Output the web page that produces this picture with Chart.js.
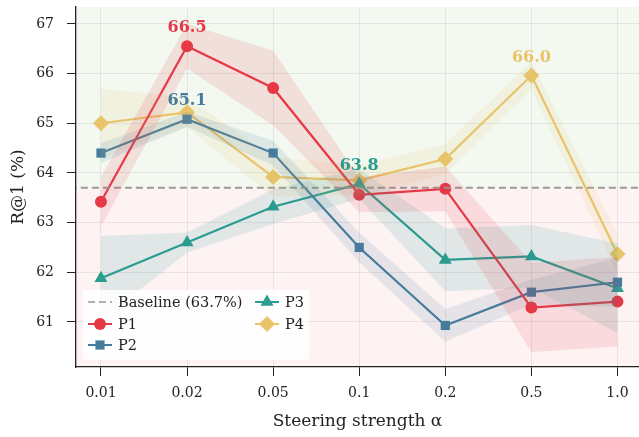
<!DOCTYPE html>
<html>
<head>
<meta charset="utf-8">
<script src="https://cdn.jsdelivr.net/npm/chart.js@4"></script>
<style>
  html, body { margin: 0; padding: 0; background: #fff; }
  #wrap { width: 639px; height: 437px; }
</style>
</head>
<body>
<div id="wrap"><canvas id="chart" width="639" height="437"></canvas></div>
<script>
// steering strengths (x categories)
const ALPHAS = ['0.01', '0.02', '0.05', '0.1', '0.2', '0.5', '1.0'];
const BASELINE = 63.7;

// mean R@1 per prompt
const P1 = [63.42, 66.55, 65.71, 63.56, 63.68, 61.29, 61.41];
const P2 = [64.40, 65.08, 64.40, 62.50, 60.93, 61.60, 61.80];
const P3 = [61.88, 62.60, 63.32, 63.78, 62.25, 62.32, 61.68];
const P4 = [65.00, 65.22, 63.92, 63.85, 64.28, 65.96, 62.37];

// spread (std) per prompt
const P1_STD = [0.50, 0.45, 0.75, 0.35, 0.45, 0.90, 0.90];
const P2_STD = [0.20, 0.15, 0.25, 0.30, 0.33, 0.25, 0.50];
const P3_STD = [0.85, 0.20, 0.35, 0.30, 0.63, 0.63, 0.90];
const P4_STD = [0.70, 0.30, 0.40, 0.30, 0.30, 0.28, 0.40];

const SERIES = [
  { name: 'P1', mean: P1, std: P1_STD, color: '#e63946', rgb: '230,57,70', marker: 'circle', r: 6 },
  { name: 'P2', mean: P2, std: P2_STD, color: '#457b9d', rgb: '69,123,157', marker: 'rect', r: 6.5 },
  { name: 'P3', mean: P3, std: P3_STD, color: '#2a9d8f', rgb: '42,157,143', marker: 'triangle', r: 7.5 },
  { name: 'P4', mean: P4, std: P4_STD, color: '#e9c46a', rgb: '233,196,106', marker: 'rectRot', r: 8 },
];

const FONT = "'DejaVu Serif', serif";
const pts = arr => arr.map((v, i) => ({ x: i, y: v }));

var datasets = [];
// bands first
SERIES.forEach(s => {
  datasets.push({
    label: s.name + ' lo',
    data: pts(s.mean.map((v, i) => v - s.std[i])),
    borderWidth: 0, pointRadius: 0, fill: false, borderColor: 'rgba(0,0,0,0)',
  });
  datasets.push({
    label: s.name + ' hi',
    data: pts(s.mean.map((v, i) => v + s.std[i])),
    borderWidth: 0, pointRadius: 0, fill: '-1', borderColor: 'rgba(0,0,0,0)',
    backgroundColor: 'rgba(' + s.rgb + ',0.13)',
  });
});
datasets.push({
  label: 'Baseline (63.7%)',
  data: [{ x: -1, y: BASELINE }, { x: 7, y: BASELINE }],
  borderColor: '#9a9a9a', borderWidth: 2, borderDash: [7, 4], pointRadius: 0, fill: false,
});
SERIES.forEach(s => {
  datasets.push({
    label: s.name,
    data: pts(s.mean),
    borderColor: s.color, backgroundColor: s.color, borderWidth: 2.2,
    pointStyle: s.marker, pointRadius: s.r, pointBorderWidth: 0, pointHoverRadius: s.r,
    fill: false, tension: 0,
  });
});

const bgZones = {
  id: 'bgZones',
  beforeDraw(chart) {
    const { ctx, chartArea: a, scales: { y } } = chart;
    const yb = y.getPixelForValue(BASELINE);
    ctx.save();
    ctx.fillStyle = '#f3f8f1';
    ctx.fillRect(a.left, a.top, a.right - a.left, yb - a.top);
    ctx.fillStyle = '#fdf3f3';
    ctx.fillRect(a.left, yb, a.right - a.left, a.bottom - yb);
    ctx.restore();
  }
};

const peakLabels = {
  id: 'peakLabels',
  afterDatasetsDraw(chart) {
    const { ctx, scales: { x, y } } = chart;
    ctx.save();
    ctx.font = 'bold 16px ' + FONT;
    ctx.textAlign = 'center';
    ctx.textBaseline = 'middle';
    SERIES.forEach(s => {
      let best = 0;
      s.mean.forEach((v, i) => { if (v > s.mean[best]) best = i; });
      ctx.fillStyle = s.color;
      ctx.fillText(s.mean[best].toFixed(1), x.getPixelForValue(best), y.getPixelForValue(s.mean[best]) - 18);
    });
    ctx.restore();
  }
};

function drawMarker(ctx, s, cx, cy) {
  Chart.helpers.drawPoint(ctx, { pointStyle: s.marker, radius: s.r, borderWidth: 0 }, cx, cy);
}

const boxLegend = {
  id: 'boxLegend',
  afterDraw(chart) {
    const ctx = chart.ctx;
    ctx.save();
    ctx.fillStyle = 'rgba(255,255,255,0.85)';
    ctx.beginPath();
    ctx.roundRect(83, 290, 226, 70, 3);
    ctx.fill();
    ctx.font = '14.5px ' + FONT;
    ctx.textBaseline = 'middle';
    ctx.textAlign = 'left';
    const items = [
      { x: 88, y: 302, base: true, text: 'Baseline (63.7%)' },
      { x: 88, y: 324, s: SERIES[0], text: 'P1' },
      { x: 88, y: 345, s: SERIES[1], text: 'P2' },
      { x: 255, y: 302, s: SERIES[2], text: 'P3' },
      { x: 255, y: 324, s: SERIES[3], text: 'P4' },
    ];
    items.forEach(it => {
      ctx.lineWidth = 2;
      if (it.base) {
        ctx.strokeStyle = '#b0b0b0';
        ctx.setLineDash([7, 4]);
      } else {
        ctx.strokeStyle = it.s.color;
        ctx.setLineDash([]);
      }
      ctx.beginPath();
      ctx.moveTo(it.x, it.y);
      ctx.lineTo(it.x + 24, it.y);
      ctx.stroke();
      ctx.setLineDash([]);
      if (!it.base) {
        ctx.fillStyle = it.s.color;
        drawMarker(ctx, it.s, it.x + 12, it.y);
      }
      ctx.fillStyle = '#222';
      ctx.fillText(it.text, it.x + 30, it.y + 1);
    });
    ctx.restore();
  }
};

// drop the label overhang padding Chart.js adds so the plot area fills the canvas
const noPad = sc => {
  sc.paddingTop = 0; sc.paddingBottom = 0; sc.paddingLeft = 0; sc.paddingRight = 0;
};

new Chart(document.getElementById('chart'), {
  type: 'line',
  data: { datasets },
  options: {
    responsive: false,
    animation: false,
    layout: { autoPadding: false, padding: { top: 7, right: 0, left: 0, bottom: 0 } },
    plugins: {
      legend: { display: false },
      tooltip: { enabled: false },
      filler: { propagate: false },
    },
    scales: {
      x: {
        type: 'linear',
        min: -0.29,
        max: 6.25,
        afterBuildTicks: sc => { sc.ticks = ALPHAS.map((_, i) => ({ value: i })); },
        afterFit: sc => { sc.height = 70; noPad(sc); },
        ticks: {
          callback: v => ALPHAS[v],
          font: { family: FONT, size: 14 },
          color: '#222',
          padding: 9,
          maxRotation: 0,
        },
        grid: { color: 'rgba(0,0,0,0.07)', tickColor: '#222', tickLength: 9, lineWidth: 1 },
        border: { display: true, color: '#222', width: 1.3 },
        title: {
          display: true,
          text: 'Steering strength \u03B1',
          font: { family: FONT, size: 17 },
          color: '#222',
          padding: { top: 0, bottom: 5 },
        },
      },
      y: {
        min: 60.094,
        max: 67.34,
        afterBuildTicks: sc => { sc.ticks = [61, 62, 63, 64, 65, 66, 67].map(v => ({ value: v })); },
        afterFit: sc => { sc.width = 76; noPad(sc); },
        ticks: {
          font: { family: FONT, size: 14 },
          color: '#222',
          padding: 13,
        },
        grid: { color: 'rgba(0,0,0,0.07)', tickColor: '#222', tickLength: 9, lineWidth: 1 },
        border: { display: true, color: '#222', width: 1.3 },
        title: {
          display: true,
          text: 'R@1 (%)',
          font: { family: FONT, size: 17 },
          color: '#222',
          padding: { top: 8, bottom: 0 },
        },
      },
    },
  },
  plugins: [bgZones, peakLabels, boxLegend],
});
</script>
</body>
</html>
